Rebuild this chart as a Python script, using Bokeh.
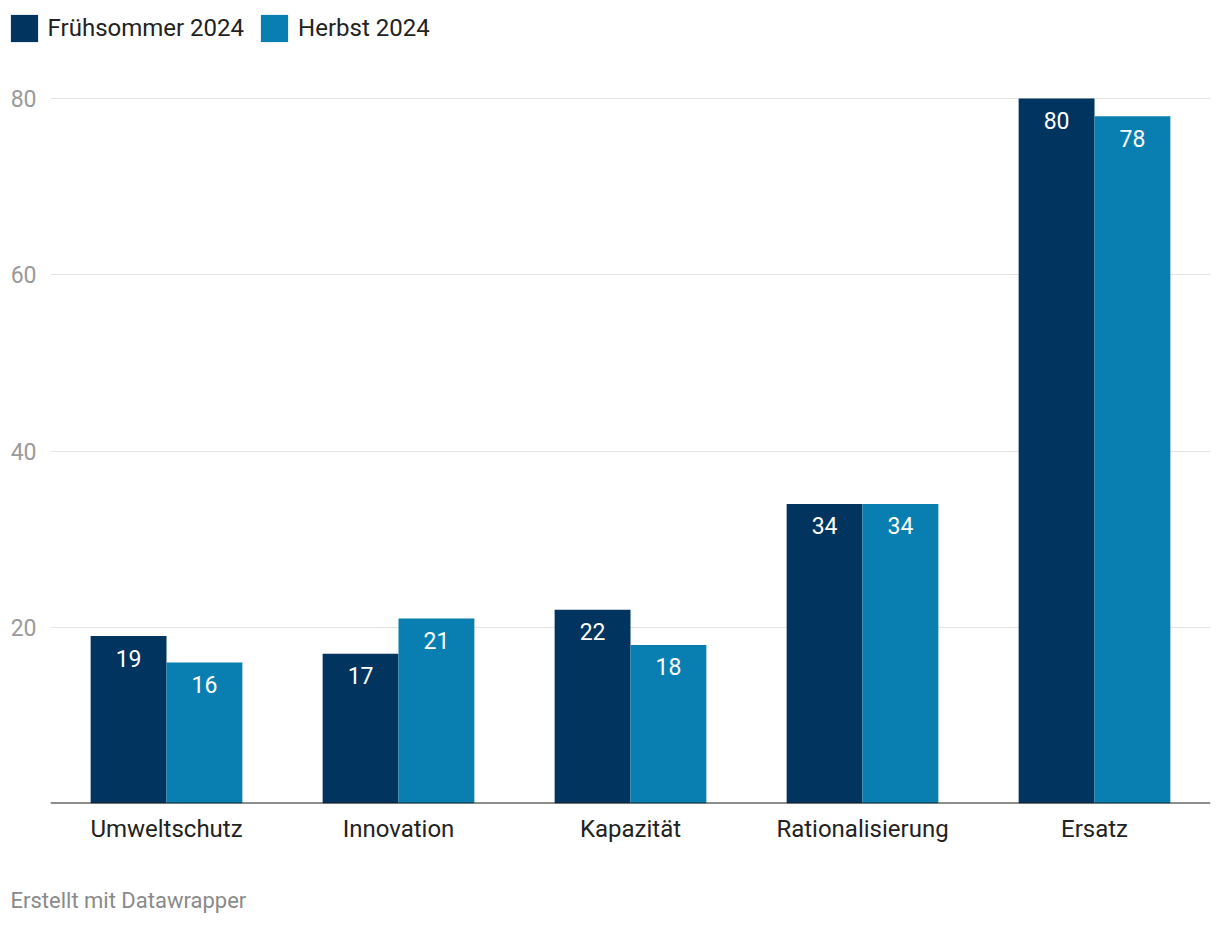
from bokeh.plotting import figure
from bokeh.layouts import column
from bokeh.models import (ColumnDataSource, Range1d, LinearAxis, FixedTicker, Span,
                          Legend, LegendItem, LabelSet, Label)
from bokeh.core.properties import value
from bokeh.transform import dodge
from bokeh.embed import file_html
from bokeh.resources import INLINE

categories = ["Umweltschutz", "Innovation", "Kapazität", "Rationalisierung", "Ersatz"]
series_names = ["Frühsommer 2024", "Herbst 2024"]
fruehsommer = [19, 17, 22, 34, 80]
herbst = [16, 21, 18, 34, 78]
y_ticks = [20, 40, 60, 80]
footer_text = "Erstellt mit Datawrapper"

DARK = "#01345f"
LIGHT = "#097fb1"
FONT = "Roboto"
W = 1220

# ---------- legend strip ----------
LEG_H = 55
leg = figure(width=W, height=LEG_H, x_range=Range1d(0, 1), y_range=Range1d(0, 1),
             output_backend="svg", toolbar_location=None,
             x_axis_location=None, y_axis_location=None,
             min_border=0, frame_align=False)
leg.outline_line_color = None
leg.xgrid.visible = False
leg.ygrid.visible = False
d1 = leg.vbar(x=[5], top=[1], width=0.1, fill_color=DARK, line_color=None)
d2 = leg.vbar(x=[5], top=[1], width=0.1, fill_color=LIGHT, line_color=None)
legend = Legend(items=[LegendItem(label=series_names[0], renderers=[d1]),
                       LegendItem(label=series_names[1], renderers=[d2])],
                orientation="horizontal", location=(6.6, LEG_H - 44.5),
                glyph_width=34, glyph_height=34, label_standoff=7, spacing=13,
                padding=0, margin=0, border_line_color=None, background_fill_alpha=0,
                label_text_font=FONT, label_text_font_size="24px", label_text_color="#222222",
                label_height=34, label_text_baseline="middle")
leg.add_layout(legend, "center")

# ---------- main chart ----------
FOOT_H = 56
MAIN_H = 926 - LEG_H - FOOT_H
frame_top_g, frame_bot_g = 63, 803
top_b = frame_top_g - LEG_H
bot_b = (926 - FOOT_H) - frame_bot_g
frame_h = MAIN_H - top_b - bot_b
y_end = 80 * frame_h / (803 - 98)

xs = list(range(len(categories)))

src = ColumnDataSource(dict(
    x=xs,
    a=fruehsommer,
    b=herbst,
    a_lbl=[str(v) for v in fruehsommer],
    b_lbl=[str(v) for v in herbst],
))

p = figure(width=W, height=MAIN_H, x_range=Range1d(-0.5, len(categories) - 0.5),
           y_range=Range1d(0, y_end), output_backend="svg", toolbar_location=None,
           x_axis_location=None, y_axis_location=None,
           min_border_left=50, min_border_right=10,
           min_border_top=top_b, min_border_bottom=bot_b, frame_align=False)
p.outline_line_color = None
p.xgrid.visible = False
p.ygrid.ticker = FixedTicker(ticks=y_ticks)
p.ygrid.grid_line_color = "#e3e3e3"
p.ygrid.grid_line_width = 1

bw = 0.327
off = bw / 2
p.vbar(x=dodge("x", -off), top="a", width=bw, source=src, fill_color=DARK, line_color=None)
p.vbar(x=dodge("x", off), top="b", width=bw, source=src, fill_color=LIGHT, line_color=None)

p.add_layout(Span(location=0, dimension="width", line_color="#1d1d1d", line_width=2))

yax = LinearAxis(ticker=FixedTicker(ticks=y_ticks))
yax.axis_line_color = None
yax.major_tick_line_color = None
yax.major_tick_out = 0
yax.major_tick_in = 0
yax.minor_tick_line_color = None
yax.major_label_text_font = FONT
yax.major_label_text_font_size = "23px"
yax.major_label_text_color = "#9a9a9a"
yax.major_label_standoff = 14
p.add_layout(yax, "left")

xax = LinearAxis(ticker=FixedTicker(ticks=xs),
                 major_label_overrides={i: c for i, c in zip(xs, categories)})
xax.axis_line_color = None
xax.major_tick_line_color = None
xax.major_tick_out = 0
xax.major_tick_in = 0
xax.minor_tick_line_color = None
xax.major_label_text_font = FONT
xax.major_label_text_font_size = "24px"
xax.major_label_text_color = "#222222"
xax.major_label_standoff = 11
p.add_layout(xax, "below")

for col, lbl, d in (("a", "a_lbl", -off), ("b", "b_lbl", off)):
    p.add_layout(LabelSet(x=dodge("x", d), y=col, text=lbl, source=src,
                          text_align="center", text_baseline="middle", y_offset=-22,
                          text_color="white", text_font=value(FONT),
                          text_font_size=value("23px")))

# ---------- footer ----------
foot = figure(width=W, height=FOOT_H, x_range=Range1d(0, 1), y_range=Range1d(0, 1),
              output_backend="svg", toolbar_location=None,
              x_axis_location=None, y_axis_location=None, min_border=0, frame_align=False)
foot.outline_line_color = None
foot.xgrid.visible = False
foot.ygrid.visible = False
foot.add_layout(Label(x=10, y=26, x_units="screen", y_units="screen", text=footer_text,
                      text_font=FONT, text_font_size="22px", text_color="#8a8a8a",
                      text_baseline="middle", text_align="left"))

layout = column(leg, p, foot, spacing=0)
open("out.html", "w").write(file_html(layout, INLINE))
